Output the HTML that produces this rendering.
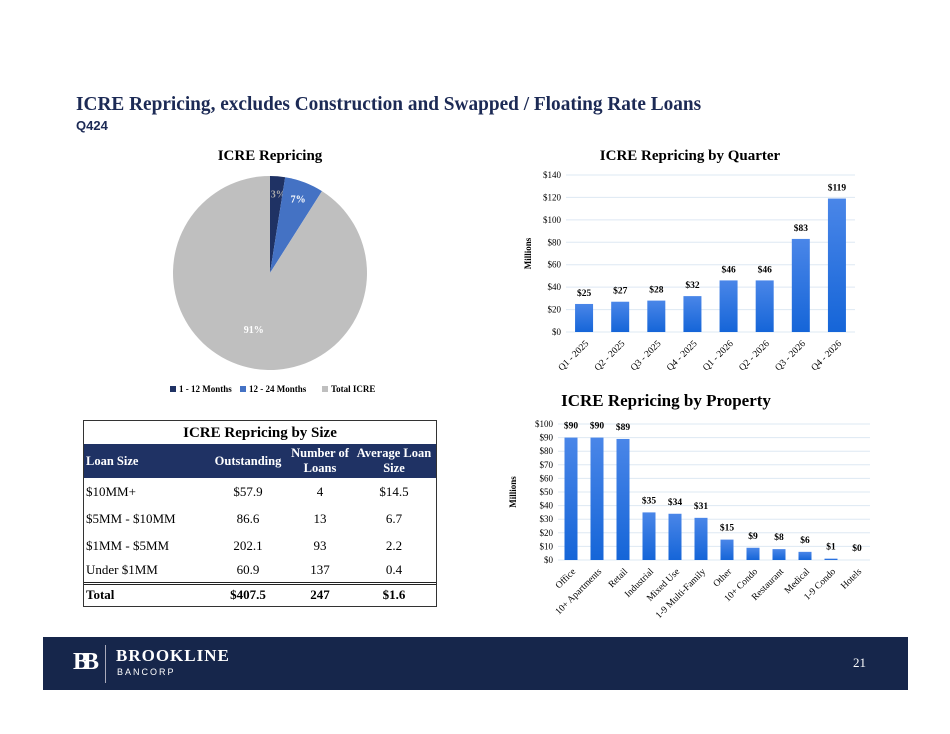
<!DOCTYPE html>
<html><head><meta charset="utf-8"><style>
body{margin:0;width:950px;height:734px;background:#fff;position:relative;overflow:hidden;font-family:"Liberation Serif",serif}
.abs{position:absolute}
table{border-collapse:collapse;table-layout:fixed}
td{padding:0;white-space:nowrap}
td:first-child{padding-left:2px}
</style></head><body>
<div class="abs" style="left:76px;top:93px;font-size:20px;font-weight:bold;color:#1c2a55;white-space:nowrap;transform:scaleX(0.965);transform-origin:left">ICRE Repricing, excludes Construction and Swapped / Floating Rate Loans</div>
<div class="abs" style="left:76px;top:118px;font-family:'Liberation Sans',sans-serif;font-size:13px;font-weight:bold;color:#1c2a55">Q424</div>

<svg class="abs" style="left:0;top:0" width="950" height="640">
<text x="270" y="160" text-anchor="middle" font-size="15" font-weight="bold" font-family="Liberation Serif">ICRE Repricing</text>
<g id="pie"></g>
<g id="legend"></g>
<text x="690" y="160" text-anchor="middle" font-size="15" font-weight="bold" font-family="Liberation Serif">ICRE Repricing by Quarter</text>
<g id="qchart"></g>
<text x="666" y="406" text-anchor="middle" font-size="17" font-weight="bold" font-family="Liberation Serif">ICRE Repricing by Property</text>
<g id="pchart"></g>
<defs><linearGradient id="bg" x1="0" y1="0" x2="0" y2="1"><stop offset="0" stop-color="#4a86e8"/><stop offset="1" stop-color="#1565d8"/></linearGradient></defs>
</svg>

<div class="abs" style="left:83px;top:420px;width:352px;height:185px;border:1px solid #333;font-size:13px;overflow:hidden">
<div style="height:23px;line-height:24px;text-align:center;font-weight:bold;font-size:15px">ICRE Repricing by Size</div>
<table style="width:352px">
<colgroup><col style="width:124px"><col style="width:80px"><col style="width:64px"><col style="width:84px"></colgroup>
<tr style="background:#1f3264;color:#fff;font-weight:bold;height:34px;line-height:15px;font-size:12.5px">
<td>Loan Size</td><td style="text-align:center">Outstanding</td><td style="text-align:center">Number of<br>Loans</td><td style="text-align:center">Average Loan<br>Size</td></tr>
<tr style="height:27px"><td>$10MM+</td><td style="text-align:center">$57.9</td><td style="text-align:center">4</td><td style="text-align:center">$14.5</td></tr>
<tr style="height:27px"><td>$5MM - $10MM</td><td style="text-align:center">86.6</td><td style="text-align:center">13</td><td style="text-align:center">6.7</td></tr>
<tr style="height:27px"><td>$1MM - $5MM</td><td style="text-align:center">202.1</td><td style="text-align:center">93</td><td style="text-align:center">2.2</td></tr>
<tr style="height:24px"><td>Under $1MM</td><td style="text-align:center">60.9</td><td style="text-align:center">137</td><td style="text-align:center">0.4</td></tr>
<tr style="height:22px;font-weight:bold;border-top:3px double #222"><td>Total</td><td style="text-align:center">$407.5</td><td style="text-align:center">247</td><td style="text-align:center">$1.6</td></tr>
</table></div>

<div class="abs" style="left:43px;top:637px;width:865px;height:53px;background:#16264b">
<div class="abs" style="left:30px;top:12px;color:#fff;font-size:24px;font-weight:bold;letter-spacing:-6px">BB</div>
<div class="abs" style="left:62px;top:8px;width:1px;height:38px;background:#aab"></div>
<div class="abs" style="left:73px;top:9px;color:#fff;font-size:17px;font-weight:bold;letter-spacing:1px">BROOKLINE</div>
<div class="abs" style="left:74px;top:30px;color:#fff;font-family:'Liberation Sans',sans-serif;font-size:9px;letter-spacing:2px">BANCORP</div>
<div class="abs" style="left:810px;top:18px;color:#fff;font-size:13px">21</div>
</div>

<script>
const pieLabels=["1 - 12 Months","12 - 24 Months","Total ICRE"];
const pieValues=[2.5,6.5,91];
const pieText=["3%","7%","91%"];
const pieColors=["#1f3264","#4472c4","#bfbfbf"];
const qCats=["Q1 - 2025","Q2 - 2025","Q3 - 2025","Q4 - 2025","Q1 - 2026","Q2 - 2026","Q3 - 2026","Q4 - 2026"];
const qVals=[25,27,28,32,46,46,83,119];
const qTicks=[0,20,40,60,80,100,120,140];
const pCats=["Office","10+ Apartments","Retail","Industrial","Mixed Use","1-9 Multi-Family","Other","10+ Condo","Restaurant","Medical","1-9 Condo","Hotels"];
const pVals=[90,90,89,35,34,31,15,9,8,6,1,0];
const pTicks=[0,10,20,30,40,50,60,70,80,90,100];
const NS="http://www.w3.org/2000/svg";
function mk(t,a,p,txt){const e=document.createElementNS(NS,t);for(const k in a)e.setAttribute(k,a[k]);if(txt!==undefined)e.textContent=txt;p.appendChild(e);return e;}
const pg=document.getElementById('pie');const cx=270,cy=273,r=97;
const tot=pieValues.reduce((a,b)=>a+b,0);let ang=0;
pieValues.forEach((v,i)=>{const a0=ang,a1=ang+v/tot*2*Math.PI;ang=a1;
const x0=cx+r*Math.sin(a0),y0=cy-r*Math.cos(a0),x1=cx+r*Math.sin(a1),y1=cy-r*Math.cos(a1);
const s=mk('path',{d:`M${cx},${cy}L${x0},${y0}A${r},${r} 0 ${a1-a0>Math.PI?1:0} 1 ${x1},${y1}Z`,fill:pieColors[i]},pg);


const am=(a0+a1)/2,lr=i==2?0.6:0.82;
const t=mk('text',{x:cx+r*lr*Math.sin(am)+(i==0?2:0),y:cy-r*lr*Math.cos(am)+4,'text-anchor':'middle','font-size':10,'font-weight':'bold',fill:i==0?'#aaa':'#fff'},pg,pieText[i]);


});
const lg=document.getElementById('legend');const lx=[170,240,322];
pieLabels.forEach((l,i)=>{const s=mk('rect',{x:lx[i],y:386,width:6,height:6,fill:pieColors[i]},lg);


const t=mk('text',{x:lx[i]+9,y:392,'font-size':9,'font-weight':'bold'},lg,l);


});
function bars(g,cats,vals,ticks,o){
const y=v=>o.y0-(v-ticks[0])/(ticks[ticks.length-1]-ticks[0])*(o.y0-o.y1);
const step=(o.x1-o.x0)/cats.length;const x=i=>o.x0+step*(i+0.5);
ticks.forEach(t=>{mk('line',{x1:o.x0,x2:o.x1,y1:y(t),y2:y(t),stroke:'#dde8f3','stroke-width':1},g);
const tl=mk('text',{x:o.x0-5,y:y(t)+3,'text-anchor':'end','font-size':9},g,'$'+t);

});
const yt=mk('text',{transform:`translate(${o.ytx},${(o.y0+o.y1)/2}) rotate(-90)`,'text-anchor':'middle','font-size':9,'font-weight':'bold'},g,'Millions');


cats.forEach((c,i)=>{const b=mk('rect',{x:x(i)-o.bw/2,y:y(vals[i]),width:o.bw,height:y(0)-y(vals[i]),fill:'url(#bg)'},g);


const vl=mk('text',{x:x(i),y:Math.max(y(vals[i])-o.gap,o.lblMin),'text-anchor':'middle','font-size':o.fs,'font-weight':'bold'},g,'$'+vals[i]);


const cl=mk('text',{transform:`translate(${x(i)+5},${o.y0+12}) rotate(-45)`,'text-anchor':'end','font-size':o.fs},g,c);

});
}
bars(document.getElementById('qchart'),qCats,qVals,qTicks,{x0:566,x1:855,y0:332,y1:175,bw:18,fs:9.5,ytx:531,lblMin:0,gap:8});
bars(document.getElementById('pchart'),pCats,pVals,pTicks,{x0:558,x1:870,y0:560,y1:424,bw:13,fs:9.5,ytx:516,lblMin:428,gap:9});
</script>
</body></html>
